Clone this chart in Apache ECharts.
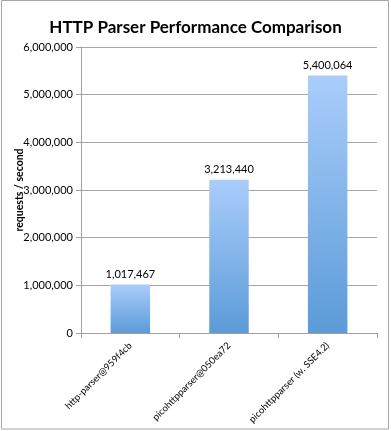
<!DOCTYPE html>
<html><head><meta charset="utf-8">
<script src="https://cdn.jsdelivr.net/npm/echarts@6/dist/echarts.min.js"></script>
<style>html,body{margin:0;padding:0;background:#fff}#c{width:391px;height:431px}</style>
</head><body><div id="c"></div>
<script>
const categories = ['http-parser@959f4cb', 'picohttpparser@050ea72', 'picohttpparser (w. SSE4.2)'];
const values = [1017467, 3213440, 5400064];
const yMin = 0, yMax = 6000000, yInterval = 1000000;

const chart = echarts.init(document.getElementById('c'), null, {renderer: 'canvas'});
const font = 'Lato, "Open Sans", sans-serif';
const fmt = v => v.toLocaleString('en-US');
chart.setOption({
  animation: false,
  backgroundColor: '#fff',
  graphic: [{type: 'rect', shape: {x: 1.5, y: 0.5, width: 387, height: 428.5}, style: {fill: 'none', stroke: '#a6a6a6', lineWidth: 1}, z: 100}],
  title: {text: 'HTTP Parser Performance Comparison', left: 'center', top: 14,
    textStyle: {fontFamily: font, fontWeight: 'bold', fontSize: 17, color: '#000'}},
  grid: {left: 81, right: 14, top: 47, bottom: 98, containLabel: false, outerBoundsMode: 'none'},
  xAxis: {type: 'category', data: categories,
    axisLine: {lineStyle: {color: '#a0a0a0'}},
    axisTick: {show: true, length: 5, lineStyle: {color: '#a0a0a0'}},
    axisLabel: {rotate: 45, fontFamily: font, fontSize: 9.5, color: '#000', margin: 11}},
  yAxis: {type: 'value', min: yMin, max: yMax, interval: yInterval,
    name: 'requests / second', nameLocation: 'middle', nameGap: 55.5, nameMoveOverlap: false,
    nameTextStyle: {fontFamily: font, fontWeight: 'bold', fontSize: 10.5, color: '#000'},
    axisLine: {show: true, lineStyle: {color: '#a0a0a0'}},
    axisTick: {show: true, length: 5, lineStyle: {color: '#a0a0a0'}},
    splitLine: {lineStyle: {color: '#a6a6a6'}},
    axisLabel: {fontFamily: font, fontSize: 11, color: '#000', margin: 8, formatter: fmt}},
  series: [{type: 'bar', data: values, barWidth: '40%',
    itemStyle: {color: new echarts.graphic.LinearGradient(0, 0, 0, 1, [
      {offset: 0, color: '#aacdfb'}, {offset: 1, color: '#5b9bd8'}])},
    label: {show: true, position: 'top', distance: 5, fontFamily: font, fontSize: 11, color: '#000',
      formatter: p => fmt(p.value)}}]
});
</script></body></html>
